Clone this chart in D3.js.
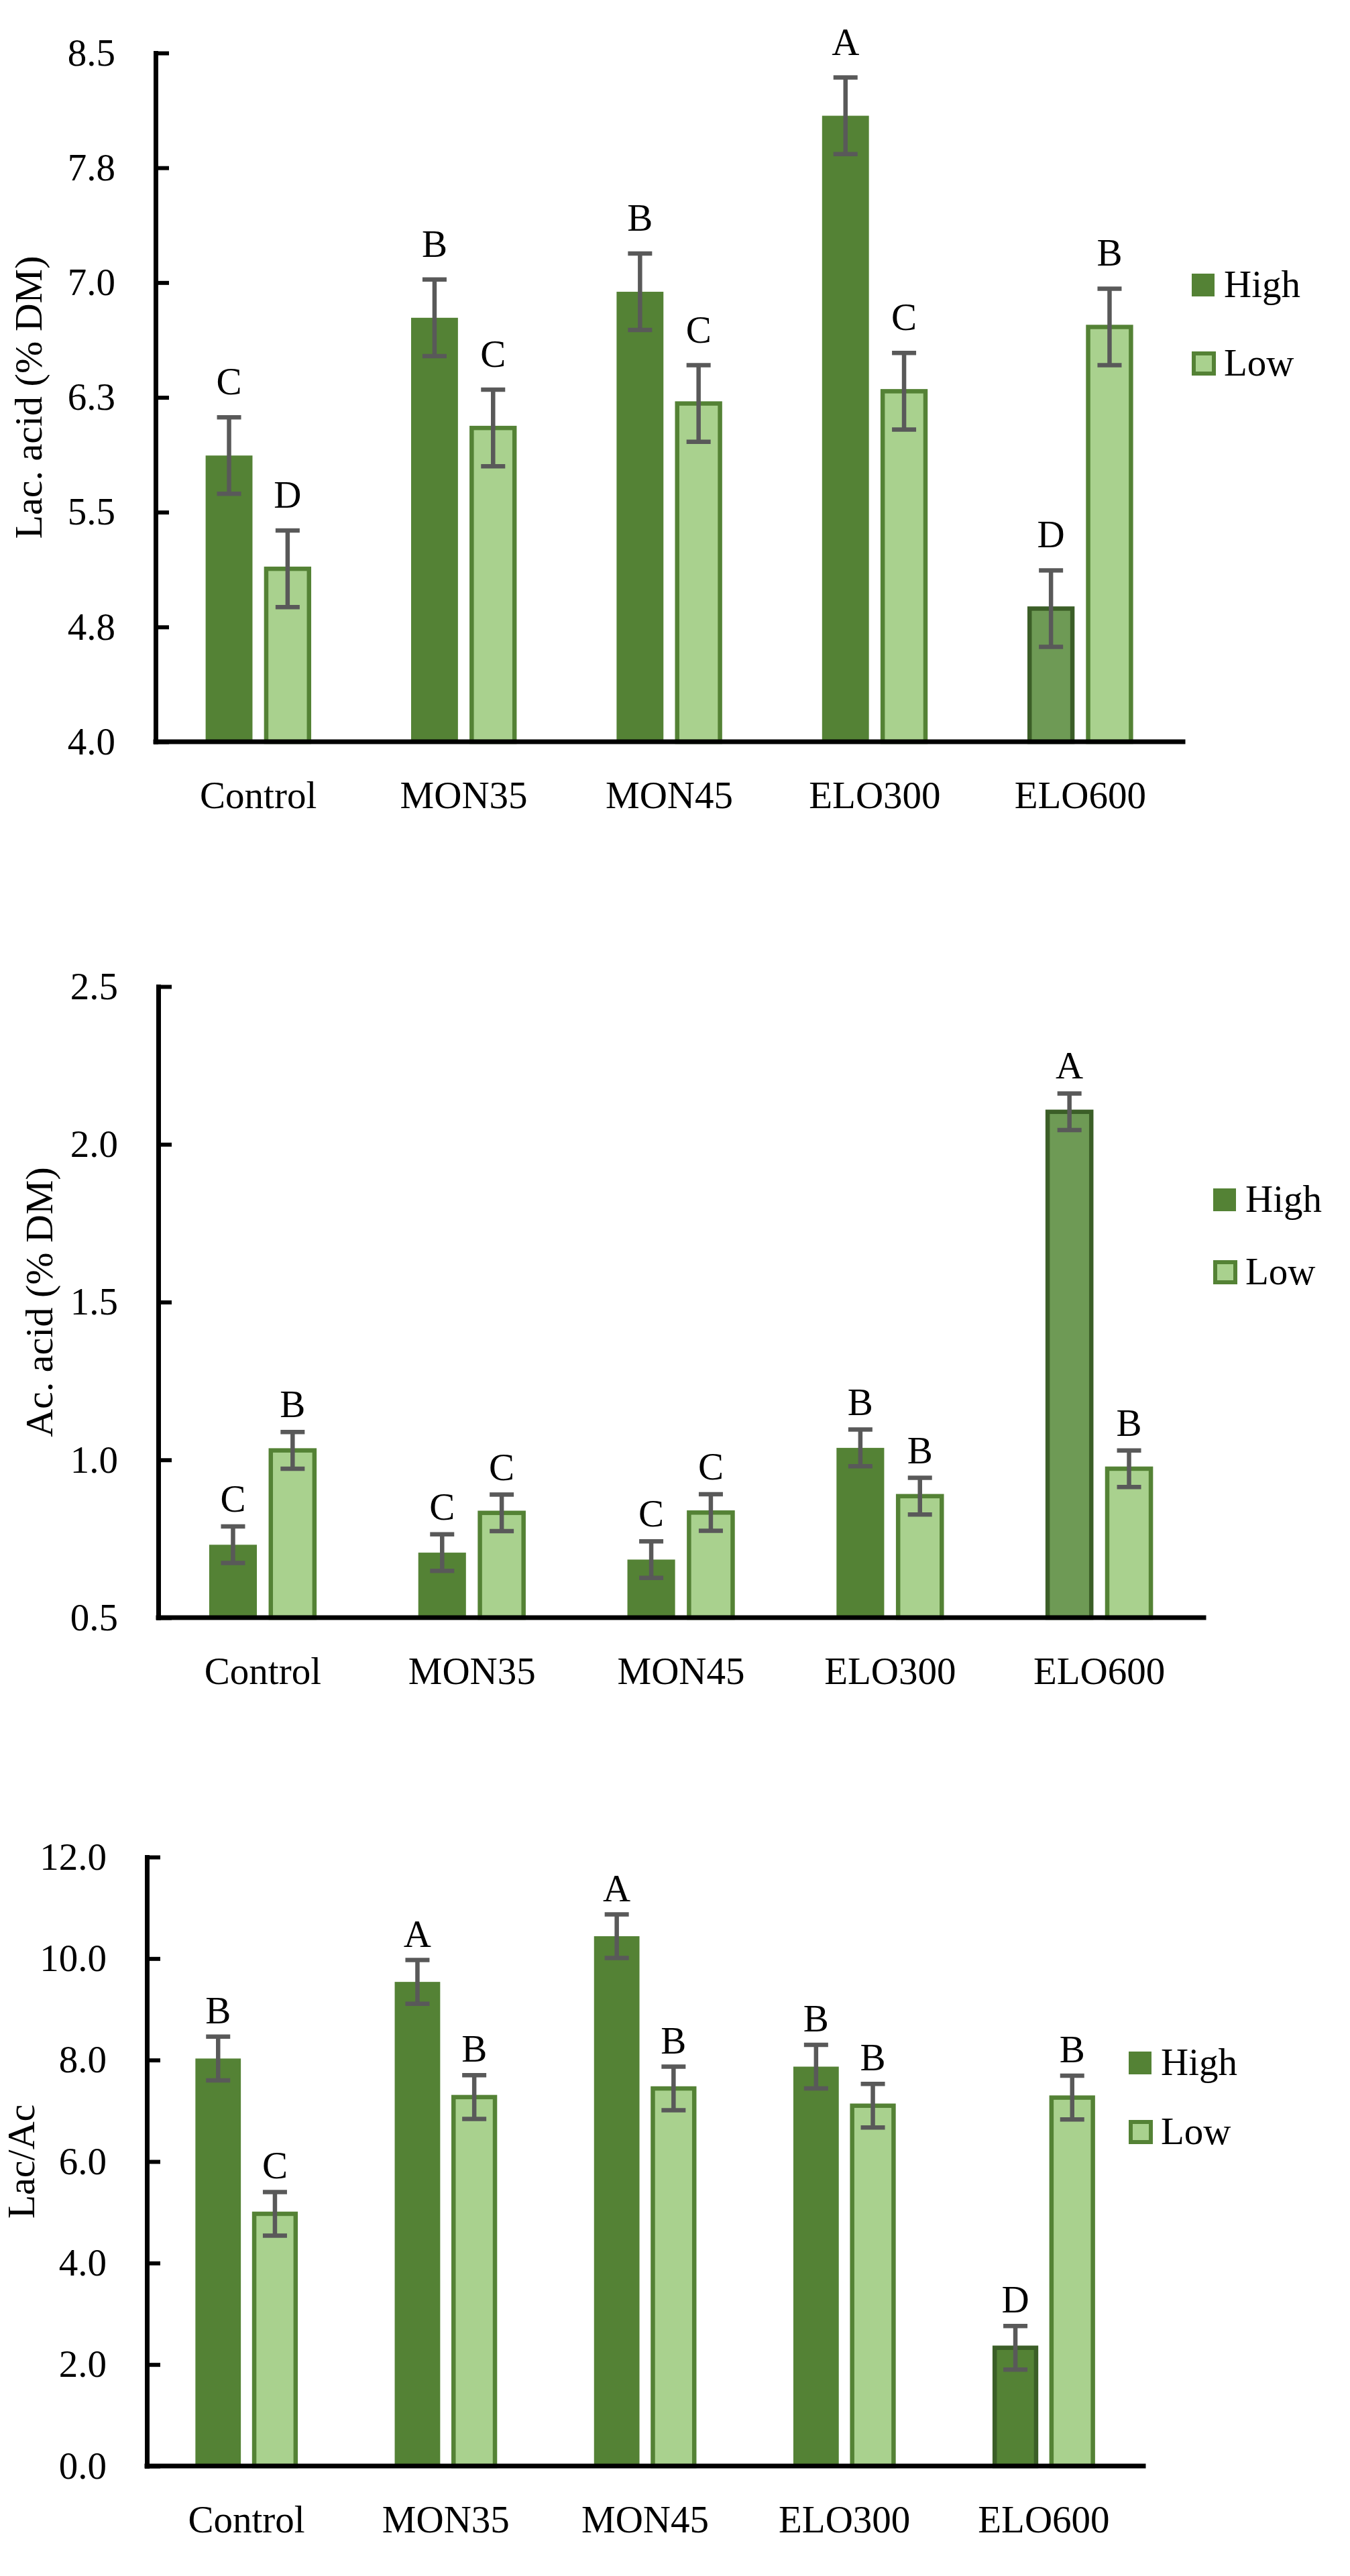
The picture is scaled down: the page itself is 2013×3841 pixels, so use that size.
<!DOCTYPE html>
<html lang="en">
<head>
    <meta charset="UTF-8">
    <title>Lac. acid, Ac. acid and Lac/Ac</title>
    <script src="https://d3js.org/d3.v7.min.js"></script>
    <style>
        body { margin: 0; background: #fff; }
        text { font-family: "Liberation Serif", "Times New Roman", serif; fill: #000; }
    </style>
</head>
<body>
    <svg width="2013" height="3841"></svg>

    <script>
        // kategorije i serije
        const categories = ["Control", "MON35", "MON45", "ELO300", "ELO600"];
        const series = ["High", "Low"];

        // Lac. acid (% DM)
        const lacHigh = [5.87, 6.77, 6.94, 8.09, 4.87];
        const lacLow = [5.13, 6.05, 6.21, 6.29, 6.71];
        const lacHighErr = [0.25, 0.25, 0.25, 0.25, 0.25];
        const lacLowErr = [0.25, 0.25, 0.25, 0.25, 0.25];
        const lacHighLetters = ["C", "B", "B", "A", "D"];
        const lacLowLetters = ["D", "C", "C", "C", "B"];
        const lacTicks = [4.0, 4.75, 5.5, 6.25, 7.0, 7.75, 8.5];

        // Ac. acid (% DM)
        const acHigh = [0.731, 0.706, 0.684, 1.038, 2.103];
        const acLow = [1.030, 0.832, 0.833, 0.885, 0.972];
        const acHighErr = [0.058, 0.058, 0.058, 0.058, 0.058];
        const acLowErr = [0.058, 0.058, 0.058, 0.058, 0.058];
        const acHighLetters = ["C", "C", "C", "B", "A"];
        const acLowLetters = ["B", "C", "C", "B", "B"];
        const acTicks = [0.5, 1.0, 1.5, 2.0, 2.5];

        // Lac/Ac
        const ratioHigh = [8.03, 9.54, 10.44, 7.87, 2.33];
        const ratioLow = [4.97, 7.27, 7.44, 7.10, 7.26];
        const ratioHighErr = [0.43, 0.43, 0.43, 0.43, 0.43];
        const ratioLowErr = [0.43, 0.43, 0.43, 0.43, 0.43];
        const ratioHighLetters = ["B", "A", "A", "B", "D"];
        const ratioLowLetters = ["C", "B", "B", "B", "B"];
        const ratioTicks = [0, 2, 4, 6, 8, 10, 12];

        const colors = { High: "#548235", Low: "#A9D18E", edge: "#548235", dark: "#3B5E27", err: "#595959" };
        const fontSize = 57;

        const charts = [
            { title: "Lac. acid (% DM)", titleX: 62, left: 232, right: 1764, top: 79, bottom: 1106,
              ticks: lacTicks, high: lacHigh, low: lacLow, highErr: lacHighErr, lowErr: lacLowErr,
              highLetters: lacHighLetters, lowLetters: lacLowLetters, letterGap: 34,
              legendX: 1777, legendY: [425, 542], specialFill: "#6E9A55" },
            { title: "Ac. acid (% DM)", titleX: 78, left: 236, right: 1795, top: 1471, bottom: 2412,
              ticks: acTicks, high: acHigh, low: acLow, highErr: acHighErr, lowErr: acLowErr,
              highLetters: acHighLetters, lowLetters: acLowLetters, letterGap: 22,
              legendX: 1809, legendY: [1789, 1897], specialFill: "#6E9A55" },
            { title: "Lac/Ac", titleX: 51, left: 219, right: 1705, top: 2769, bottom: 3677,
              ticks: ratioTicks, high: ratioHigh, low: ratioLow, highErr: ratioHighErr, lowErr: ratioLowErr,
              highLetters: ratioHighLetters, lowLetters: ratioLowLetters, letterGap: 20,
              legendX: 1683, legendY: [3076, 3179], specialFill: "#548235" }
        ];

        const svg = d3.select("svg");

        charts.forEach(c => {
            const g = svg.append("g");

            const x0 = d3.scaleBand()
                .domain(categories)
                .range([c.left, c.right])
                .paddingInner(0.487)
                .paddingOuter(0.2435);

            const x1 = d3.scaleBand()
                .domain(series)
                .range([0, x0.bandwidth()])
                .paddingInner(0.2);

            const y = d3.scaleLinear()
                .domain(d3.extent(c.ticks))
                .range([c.bottom, c.top]);

            const rows = categories.map((cat, i) => ({
                cat,
                values: [
                    { s: "High", v: c.high[i], e: c.highErr[i], l: c.highLetters[i], special: i === 4 },
                    { s: "Low", v: c.low[i], e: c.lowErr[i], l: c.lowLetters[i], special: false }
                ]
            }));

            const grp = g.selectAll(".grp")
                .data(rows)
                .join("g")
                .attr("transform", d => `translate(${x0(d.cat)},0)`);

            // stupci
            grp.selectAll("rect")
                .data(d => d.values)
                .join("rect")
                .attr("x", d => x1(d.s) + (d.s === "Low" || d.special ? 3 : 0))
                .attr("width", d => x1.bandwidth() - (d.s === "Low" || d.special ? 6 : 0))
                .attr("y", d => y(d.v))
                .attr("height", d => y.range()[0] - y(d.v))
                .attr("fill", d => d.special ? c.specialFill : colors[d.s])
                .attr("stroke", d => d.special ? colors.dark : (d.s === "Low" ? colors.edge : "none"))
                .attr("stroke-width", 6.5);

            // error bars
            const eb = grp.selectAll(".eb")
                .data(d => d.values)
                .join("g")
                .attr("stroke", colors.err)
                .attr("stroke-width", 6.5)
                .attr("transform", d => `translate(${x1(d.s) + x1.bandwidth() / 2},0)`);

            eb.append("line")
                .attr("y1", d => y(d.v + d.e))
                .attr("y2", d => y(d.v - d.e));
            eb.append("line")
                .attr("x1", -18).attr("x2", 18)
                .attr("y1", d => y(d.v + d.e)).attr("y2", d => y(d.v + d.e));
            eb.append("line")
                .attr("x1", -18).attr("x2", 18)
                .attr("y1", d => y(d.v - d.e)).attr("y2", d => y(d.v - d.e));

            // slova
            grp.selectAll(".letter")
                .data(d => d.values)
                .join("text")
                .attr("x", d => x1(d.s) + x1.bandwidth() / 2)
                .attr("y", d => y(d.v + d.e) - c.letterGap)
                .attr("text-anchor", "middle")
                .style("font-size", fontSize + "px")
                .text(d => d.l);

            // osi
            const yAxis = g.append("g")
                .attr("transform", `translate(${c.left},0)`)
                .call(d3.axisLeft(y)
                    .tickValues(c.ticks)
                    .tickFormat(d3.format(".1f"))
                    .tickSize(-20)
                    .tickSizeOuter(0)
                    .tickPadding(60));
            yAxis.select(".domain").attr("stroke-width", 7).attr("stroke-linecap", "square");
            yAxis.selectAll(".tick line").attr("stroke-width", 6);
            yAxis.selectAll("text")
                .style("font-family", "Liberation Serif")
                .style("font-size", fontSize + "px")
                .attr("fill", "#000");

            const xAxis = g.append("g")
                .attr("transform", `translate(0,${c.bottom})`)
                .call(d3.axisBottom(x0).tickSize(0).tickSizeOuter(0).tickPadding(59));
            xAxis.select(".domain")
                .attr("d", `M${c.left},0H${c.right}`)
                .attr("stroke-width", 7)
                .attr("stroke-linecap", "square");
            xAxis.selectAll("text")
                .style("font-family", "Liberation Serif")
                .style("font-size", fontSize + "px")
                .attr("fill", "#000");

            // naziv y osi
            g.append("text")
                .attr("transform", `translate(${c.titleX},${(c.top + c.bottom) / 2}) rotate(-90)`)
                .attr("text-anchor", "middle")
                .style("font-size", "58px")
                .text(c.title);

            // legenda
            series.forEach((s, i) => {
                const cy = c.legendY[i];
                if (s === "High") {
                    g.append("rect")
                        .attr("x", c.legendX).attr("y", cy - 17)
                        .attr("width", 34).attr("height", 34)
                        .attr("fill", colors.High);
                } else {
                    g.append("rect")
                        .attr("x", c.legendX + 3).attr("y", cy - 15)
                        .attr("width", 30).attr("height", 30)
                        .attr("fill", colors.Low)
                        .attr("stroke", colors.edge)
                        .attr("stroke-width", 6);
                }
                g.append("text")
                    .attr("x", c.legendX + 48)
                    .attr("y", cy + 18)
                    .style("font-size", fontSize + "px")
                    .text(s);
            });
        });
    </script>
</body>
</html>
